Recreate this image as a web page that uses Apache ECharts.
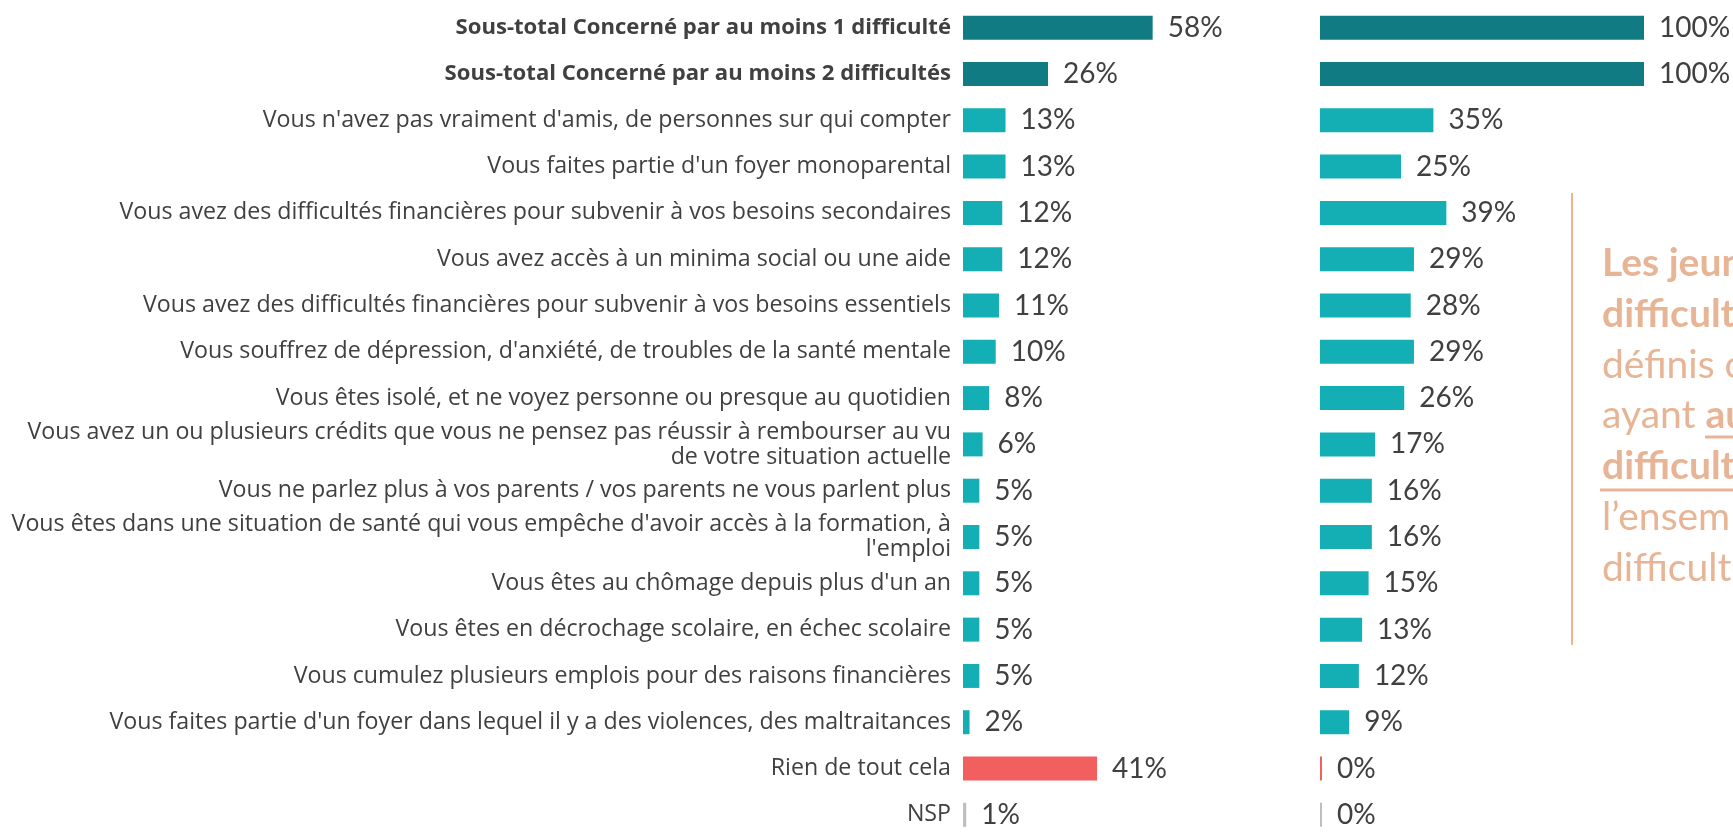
<!DOCTYPE html>
<html>
<head>
<meta charset="utf-8">
<script src="https://cdn.jsdelivr.net/npm/echarts@6/dist/echarts.min.js"></script>
<style>
html, body { margin: 0; padding: 0; background: #fff; }
#chart { width: 1733px; height: 838px; }
</style>
</head>
<body>
<div id="chart"></div>
<script>
var categories = [
    "Sous-total Concerné par au moins 1 difficulté",
    "Sous-total Concerné par au moins 2 difficultés",
    "Vous n'avez pas vraiment d'amis, de personnes sur qui compter",
    "Vous faites partie d'un foyer monoparental",
    "Vous avez des difficultés financières pour subvenir à vos besoins secondaires",
    "Vous avez accès à un minima social ou une aide",
    "Vous avez des difficultés financières pour subvenir à vos besoins essentiels",
    "Vous souffrez de dépression, d'anxiété, de troubles de la santé mentale",
    "Vous êtes isolé, et ne voyez personne ou presque au quotidien",
    "Vous avez un ou plusieurs crédits que vous ne pensez pas réussir à rembourser au vu\nde votre situation actuelle",
    "Vous ne parlez plus à vos parents / vos parents ne vous parlent plus",
    "Vous êtes dans une situation de santé qui vous empêche d'avoir accès à la formation, à\nl'emploi",
    "Vous êtes au chômage depuis plus d'un an",
    "Vous êtes en décrochage scolaire, en échec scolaire",
    "Vous cumulez plusieurs emplois pour des raisons financières",
    "Vous faites partie d'un foyer dans lequel il y a des violences, des maltraitances",
    "Rien de tout cela",
    "NSP"
];
// ensemble des jeunes
var totalValues = [58, 26, 13, 13, 12, 12, 11, 10, 8, 6, 5, 5, 5, 5, 5, 2, 41, 1];
// jeunes en difficulté
var hardValues = [100, 100, 35, 25, 39, 29, 28, 29, 26, 17, 16, 16, 15, 13, 12, 9, 0, 0];

function barColor(i) {
    if (i < 2) return '#107B82';
    if (i == categories.length - 2) return '#F15F5E';
    if (i == categories.length - 1) return '#BFBFBF';
    return '#13AFB5';
}

var font = 'Lato';
var catFont = 'Open Sans';
var textColor = '#404040';
var chart = echarts.init(document.getElementById('chart'));

function makeSeries(values, axis) {
    return {
        type: 'bar',
        xAxisIndex: axis,
        yAxisIndex: axis,
        barWidth: 24,
        barMinHeight: 2,
        data: values.map(function (v, i) {
            return { value: v, itemStyle: { color: barColor(i) } };
        }),
        label: {
            show: true,
            position: 'right',
            distance: 15,
            formatter: '{c}%',
            fontFamily: font,
            fontSize: 28,
            color: textColor
        },
        animation: false
    };
}

var gridTop = 4.5, gridHeight = 844;

var noteColor = '#E7B595';
var noteLines = [
    '{b|Les jeunes en}',
    '{b|difficulté} sont',
    'définis comme',
    'ayant {b|au moins 2}',
    '{b|difficultés} parmi',
    'l’ensemble des',
    'difficultés testées'
];
var graphics = [{
    type: 'line',
    shape: { x1: 1572, y1: 193, x2: 1572, y2: 645 },
    style: { stroke: '#EE9A66', lineWidth: 1.5 }
}, {
    type: 'line',
    shape: { x1: 1705, y1: 437, x2: 1733, y2: 437 },
    style: { stroke: noteColor, lineWidth: 3 }
}, {
    type: 'line',
    shape: { x1: 1600, y1: 490, x2: 1733, y2: 490 },
    style: { stroke: noteColor, lineWidth: 3 }
}];
noteLines.forEach(function (t, i) {
    graphics.push({
        type: 'text',
        left: 1602,
        top: 278 + i * 50.8 - 34,
        style: {
            text: t,
            fontFamily: font,
            fontSize: 39,
            fill: noteColor,
            rich: { b: { fontFamily: font, fontSize: 39, fontWeight: 'bold', fill: noteColor, color: noteColor } }
        }
    });
});

var option = {
    backgroundColor: '#fff',
    grid: [
        { left: 963, top: gridTop, width: 327, height: gridHeight },
        { left: 1320, top: gridTop, width: 324, height: gridHeight }
    ],
    xAxis: [
        { type: 'value', gridIndex: 0, min: 0, max: 100, show: false },
        { type: 'value', gridIndex: 1, min: 0, max: 100, show: false }
    ],
    yAxis: [
        {
            type: 'category', gridIndex: 0, inverse: true, data: categories,
            axisLine: { show: false }, axisTick: { show: false },
            axisLabel: {
                margin: 12,
                fontFamily: catFont,
                fontSize: 23.2,
                lineHeight: 25,
                color: textColor,
                interval: 0,
                formatter: function (value, index) {
                    return index < 2 ? '{b|' + value + '}' : value;
                },
                rich: { b: { fontFamily: catFont, fontSize: 22.1, fontWeight: 'bold', color: textColor } }
            }
        },
        {
            type: 'category', gridIndex: 1, inverse: true, data: categories,
            axisLine: { show: false }, axisTick: { show: false }, axisLabel: { show: false }
        }
    ],
    series: [makeSeries(totalValues, 0), makeSeries(hardValues, 1)],
    graphic: graphics
};
chart.setOption(option);
</script>
</body>
</html>
